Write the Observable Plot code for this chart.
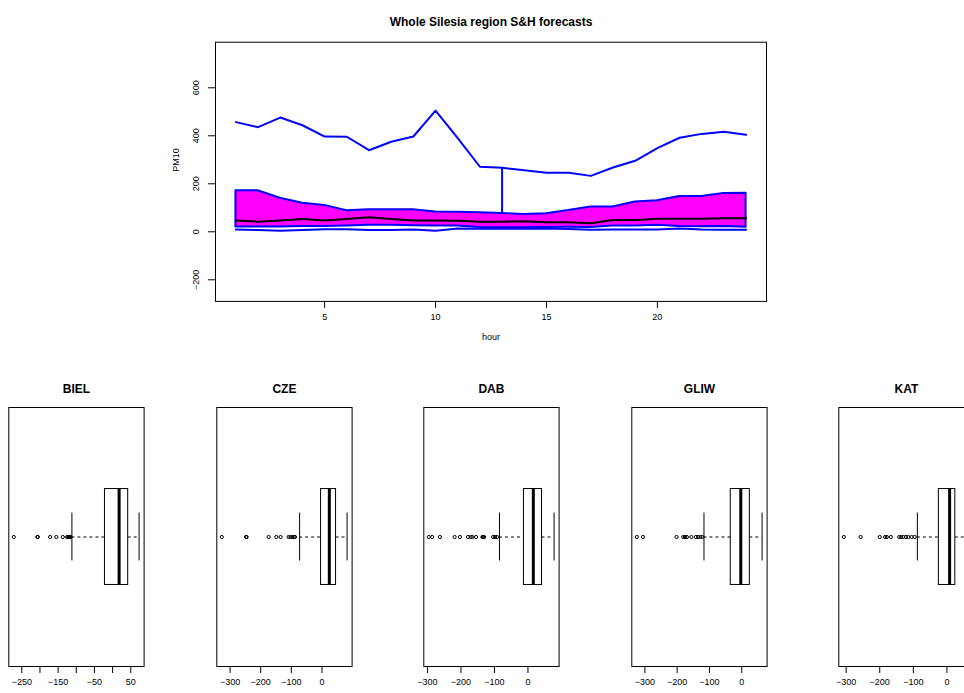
<!DOCTYPE html>
<html><head><meta charset="utf-8">
<script src="https://cdn.jsdelivr.net/npm/d3@7"></script>
<script src="https://cdn.jsdelivr.net/npm/@observablehq/plot@0.6"></script>
<style>
html,body{margin:0;padding:0;background:#fff;overflow:hidden;width:964px;height:693px;}
#root{position:relative;width:964px;height:693px;overflow:hidden;background:#fff;}
.p{position:absolute;}
.p svg{max-width:none !important;}
svg{font-family:"Liberation Sans",Arial,Helvetica,sans-serif;}
</style></head><body><div id="root"></div>
<script>
// ---------- top panel data ----------
const mainTitle = "Whole Silesia region S&H forecasts";
const hours  = [1,2,3,4,5,6,7,8,9,10,11,12,13,14,15,16,17,18,19,20,21,22,23,24];
const maxPM  = [457,436,476,444,397,396,340,375,397,505,390,271,267,256,246,246,233,268,296,349,392,408,417,404];
const q75PM  = [171,171,140,119,110,88,92,92,92,83,81,79,76,72,75,89,103,103,124,129,147,147,160,161];
const medPM  = [47,42,47,53,47,53,61,53,47,47,46,42,42,44,40,40,36,49,49,54,54,54,56,56];
const q25PM  = [20,20,20,22,22,24,27,27,25,24,24,18,17,17,18,19,18,24,24,27,22,21,22,19];
const minPM  = [10,7,4,8,11,11,8,8,10,4,14,13,13,13,14,12,9,10,10,10,14,10,9,9];
const spikeHour = [13];
const xTicksTop = [5,10,15,20];
const yTicksTop = [-200,0,200,400,600];
const yLimTop = [-250,750];

// ---------- boxplot data ----------
const stations = ["BIEL","CZE","DAB","GLIW","KAT"];
const boxQ1   = [-21,-3,-12,-34,-24];
const boxMed  = [18,24,16,-3,8];
const boxQ3   = [43,46,42,25,25];
const whiskLo = [-112,-73,-85,-117,-88];
const whiskHi = [73,82,78,63,66];
const outBIEL = [-272,-207,-206,-172,-155,-137,-125,-122,-120,-118,-116];
const outCZE  = [-327,-248,-246,-174,-149,-135,-109,-103,-97,-92,-88];
const outDAB  = [-296,-286,-263,-219,-203,-179,-171,-166,-155,-136,-134,-131,-104,-98,-92];
const outGLIW = [-325,-306,-202,-181,-176,-170,-156,-142,-135,-128,-122];
const outKAT  = [-307,-257,-200,-184,-179,-167,-142,-136,-130,-122,-115,-105,-96];
const outliers = [outBIEL,outCZE,outDAB,outGLIW,outKAT];
const boxTicks  = [[-250,-200,-150,-100,-50,0,50],[-300,-200,-100,0],[-300,-200,-100,0],[-300,-200,-100,0],[-300,-200,-100,0]];
const boxLabels = [[-250,-150,-50,50],[-300,-200,-100,0],[-300,-200,-100,0],[-300,-200,-100,0],[-300,-200,-100,0]];

const root = document.getElementById("root");
const fmt = d3.format("d");
const ext = ([a,b]) => { const r = (b-a)*0.04; return [a-r, b+r]; };
const FONT = "Liberation Sans, Arial, sans-serif";

// ---------- top chart ----------
const topData = hours.map((h,i)=>({h, max:maxPM[i], q75:q75PM[i], med:medPM[i], q25:q25PM[i], min:minPM[i]}));
const spikes = topData.filter(d => spikeHour.includes(d.h));
const topW = 964, topH = 360;
const fTop = 41.7, fBot = 300.9, fL = 215, fR = 766;
const topPlot = Plot.plot({
  width: topW, height: topH,
  marginLeft: fL, marginRight: topW - fR, marginTop: fTop, marginBottom: topH - fBot,
  style: {fontFamily: FONT, fontSize: "9px", background: "white", color: "black", maxWidth: "none"},
  x: {domain: ext(d3.extent(hours)), axis: null},
  y: {domain: ext(yLimTop), axis: null},
  marks: [
    Plot.areaY(topData, {x: "h", y1: "q25", y2: "q75", fill: "#ff00ff", stroke: "#0000ff", strokeWidth: 2, curve: "linear"}),
    Plot.lineY(topData, {x: "h", y: "min", stroke: "#0000ff", strokeWidth: 2}),
    Plot.lineY(topData, {x: "h", y: "max", stroke: "#0000ff", strokeWidth: 2}),
    Plot.ruleX(spikes, {x: "h", y1: "q75", y2: "max", stroke: "#0000ff", strokeWidth: 2}),
    Plot.lineY(topData, {x: "h", y: "med", stroke: "black", strokeWidth: 2}),
    Plot.frame({stroke: "black"}),
    Plot.axisX({ticks: xTicksTop, tickSize: 7, tickPadding: 5, tickFormat: fmt, label: null, fontSize: 9}),
    Plot.axisY({ticks: yTicksTop, tickSize: 7, tickPadding: 10, tickRotate: -90, tickFormat: d3.format("d"), label: null, fontSize: 9}),
    Plot.text([mainTitle], {frameAnchor: "top", dy: -25, text: d => d, fontWeight: "bold", fontSize: 12}),
    Plot.text(["hour"], {frameAnchor: "bottom", dy: 39, text: d => d, fontSize: 9}),
    Plot.text(["PM10"], {frameAnchor: "left", dx: -39, rotate: -90, text: d => d, fontSize: 9})
  ]
});
const topDiv = document.createElement("div");
topDiv.className = "p"; topDiv.style.left = "0px"; topDiv.style.top = "0px"; topDiv.style.width = topW + "px";
topDiv.appendChild(topPlot);
root.appendChild(topDiv);

// ---------- boxplots ----------
const pW = 207, pH = 323, pTop = 370, fw = 135.3, mL = 8.3, mT = 37, mB = 27;
stations.forEach((name, i) => {
  const outs = outliers[i];
  const lo = Math.min(whiskLo[i], ...outs), hi = Math.max(whiskHi[i], ...outs);
  const whisk = [{x1: whiskLo[i], x2: boxQ1[i]}, {x1: boxQ3[i], x2: whiskHi[i]}];
  const labs = boxLabels[i];
  const p = Plot.plot({
    width: pW, height: pH,
    marginLeft: mL, marginRight: pW - mL - fw, marginTop: mT, marginBottom: mB,
    style: {fontFamily: FONT, fontSize: "9px", background: "white", color: "black", maxWidth: "none"},
    x: {domain: ext([lo, hi]), axis: null},
    y: {domain: [0.46, 1.54], axis: null},
    marks: [
      Plot.ruleY(whisk, {y: () => 1, x1: "x1", x2: "x2", stroke: "black", strokeDasharray: "3,3", strokeWidth: 1}),
      Plot.ruleX([whiskLo[i], whiskHi[i]], {x: d => d, y1: 0.9, y2: 1.1, stroke: "black"}),
      Plot.rect([name], {x1: () => boxQ1[i], x2: () => boxQ3[i], y1: 0.8, y2: 1.2, fill: "white", stroke: "black"}),
      Plot.ruleX([boxMed[i]], {x: d => d, y1: 0.8, y2: 1.2, stroke: "black", strokeWidth: 3}),
      Plot.dot(outs, {x: d => d, y: () => 1, r: 1.6, stroke: "black", strokeWidth: 1, fill: "none"}),
      Plot.frame({stroke: "black"}),
      Plot.axisX({ticks: boxTicks[i], tickSize: 7, tickPadding: 5, tickFormat: d => labs.includes(d) ? d3.format("d")(d) : "", label: null, fontSize: 9}),
      Plot.text([name], {frameAnchor: "top", dy: -23, text: d => d, fontWeight: "bold", fontSize: 12})
    ]
  });
  const div = document.createElement("div");
  div.className = "p"; div.style.left = (207.5 * i) + "px"; div.style.top = pTop + "px"; div.style.width = pW + "px";
  div.appendChild(p);
  root.appendChild(div);
});
</script></body></html>
